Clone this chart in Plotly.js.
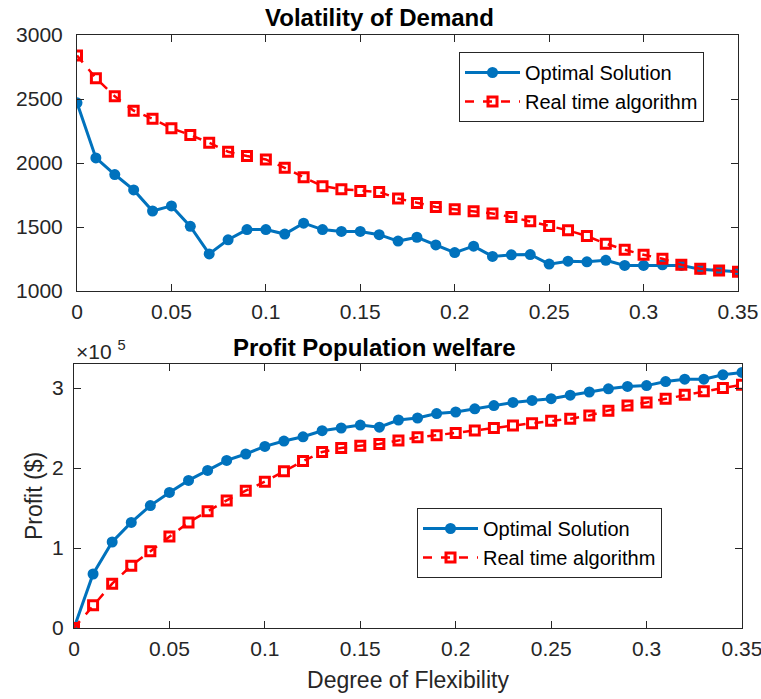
<!DOCTYPE html>
<html>
<head>
<meta charset="utf-8">
<script src="https://cdn.plot.ly/plotly-3.0.1.min.js"></script>
<style>html,body{margin:0;padding:0;background:#fff;}#chart{width:761px;height:699px;}</style>
</head>
<body>
<div id="chart"></div>
<script>
// Degree of flexibility (x values)
const flexibility = [0,0.01,0.02,0.03,0.04,0.05,0.06,0.07,0.08,0.09,0.10,0.11,0.12,0.13,0.14,0.15,0.16,0.17,0.18,0.19,0.20,0.21,0.22,0.23,0.24,0.25,0.26,0.27,0.28,0.29,0.30,0.31,0.32,0.33,0.34,0.35];

// Volatility of demand
const volOptimal = [2470,2040,1910,1790,1625,1665,1505,1290,1400,1480,1480,1445,1530,1480,1465,1465,1440,1390,1420,1360,1300,1350,1270,1283,1285,1210,1233,1228,1240,1200,1200,1205,1200,1170,1160,1150];
const volRealTime = [2840,2663,2522,2409,2346,2271,2219,2158,2088,2054,2028,1962,1889,1819,1795,1782,1774,1722,1688,1657,1639,1623,1605,1578,1544,1508,1474,1429,1370,1322,1283,1252,1205,1174,1160,1150];

// Profit (population welfare), $
const profitOptimal = [0,67500,107500,132000,153000,169500,184500,197000,209500,217500,227000,233700,239000,246600,250000,253700,251000,260000,262500,268000,270000,274000,278000,282000,284500,286600,291000,295000,299000,302000,303000,308000,311000,311000,316500,319500];
const profitRealTime = [0,28300,55400,77900,95800,114500,132000,145800,159500,171600,182900,195800,208700,220000,225000,227900,230000,234500,238300,241000,243700,247000,250000,253000,256000,259000,261600,265700,271600,278000,282000,286600,291600,295800,300000,304000];

const seriesNames = ['Optimal Solution','Real time algorithm'];
const titles = ['Volatility of Demand','Profit Population welfare'];
const xTickVals = [0,0.05,0.1,0.15,0.2,0.25,0.3,0.35];
const xTickText = ['0','0.05','0.1','0.15','0.2','0.25','0.3','0.35'];
const volTickVals = [1000,1500,2000,2500,3000];
const profitTickVals = [0,100000,200000,300000];
const profitTickText = ['0','1','2','3'];

const BLUE = '#0072BD', RED = '#FF0000', AX = '#262626';
const FONT = 'Liberation Sans, Arial, Helvetica, sans-serif';

const blueStyle = (leg) => ({mode:'lines+markers', line:{color:BLUE,width:3}, marker:{symbol:'circle',size:11,color:BLUE}, legend:leg});
const redStyle = (leg) => ({mode:'lines+markers', line:{color:RED,width:2.5,dash:'dash'}, marker:{symbol:'square-open',size:9,color:RED,line:{color:RED,width:3}}, legend:leg});

const traces = [
  Object.assign({x:flexibility, y:volOptimal, name:seriesNames[0], xaxis:'x', yaxis:'y'}, blueStyle('legend')),
  Object.assign({x:flexibility, y:volRealTime, name:seriesNames[1], xaxis:'x', yaxis:'y'}, redStyle('legend')),
  Object.assign({x:flexibility, y:profitOptimal, name:seriesNames[0], xaxis:'x2', yaxis:'y2'}, blueStyle('legend2')),
  Object.assign({x:flexibility, y:profitRealTime, name:seriesNames[1], xaxis:'x2', yaxis:'y2'}, redStyle('legend2'))
];

const axBase = {showline:true, linecolor:AX, linewidth:1, mirror:'ticks', ticks:'inside', ticklen:7, tickcolor:AX, tickwidth:1, showgrid:false, zeroline:false, ticklabeloverflow:'allow', tickfont:{family:FONT,size:21,color:AX}};

const W = 761, H = 699;
const legendBase = {xanchor:'left', yanchor:'top', bgcolor:'#fff', bordercolor:AX, borderwidth:1, itemwidth:55, font:{family:FONT,size:20,color:'#000'}, tracegroupgap:0};
const layout = {
  width:W, height:H, margin:{l:0,r:0,t:0,b:0}, paper_bgcolor:'#fff', plot_bgcolor:'#fff',
  font:{family:FONT,color:AX},
  xaxis:Object.assign({}, axBase, {domain:[77/W,738/W], range:[0,0.35], tickvals:xTickVals, ticktext:xTickText, anchor:'y', ticklabelstandoff:2}),
  yaxis:Object.assign({}, axBase, {domain:[1-291/H,1-35/H], range:[1000,3000], tickvals:volTickVals, anchor:'x', ticklabelstandoff:9}),
  xaxis2:Object.assign({}, axBase, {domain:[74/W,742/W], range:[0,0.35], tickvals:xTickVals, ticktext:xTickText, anchor:'y2', ticklabelstandoff:2,
    title:{text:'Degree of Flexibility', font:{family:FONT,size:23,color:AX}, standoff:12}}),
  yaxis2:Object.assign({}, axBase, {domain:[1-628/H,1-364/H], range:[0,330000], tickvals:profitTickVals, ticktext:profitTickText, anchor:'x2', ticklabelstandoff:5,
    title:{text:'Profit ($)', font:{family:FONT,size:23,color:AX}, standoff:3}}),
  showlegend:true,
  legend:Object.assign({}, legendBase, {x:459/W, y:1-52/H}),
  legend2:Object.assign({}, legendBase, {x:417/W, y:1-508/H}),
  annotations:[
    {text:'<b>'+titles[0]+'</b>', xref:'paper', yref:'paper', x:379/W, y:1-17/H, xanchor:'center', yanchor:'middle', showarrow:false, font:{family:FONT,size:24,color:'#000'}},
    {text:'<b>'+titles[1]+'</b>', xref:'paper', yref:'paper', x:374/W, y:1-347/H, xanchor:'center', yanchor:'middle', showarrow:false, font:{family:FONT,size:24,color:'#000'}},
    {text:'×10 <sup>5</sup>', xref:'paper', yref:'paper', x:74/W, y:1-350/H, xanchor:'left', yanchor:'middle', showarrow:false, font:{family:FONT,size:21,color:AX}}
  ]
};

Plotly.newPlot('chart', traces, layout, {displayModeBar:false, staticPlot:true});
</script>
</body>
</html>
